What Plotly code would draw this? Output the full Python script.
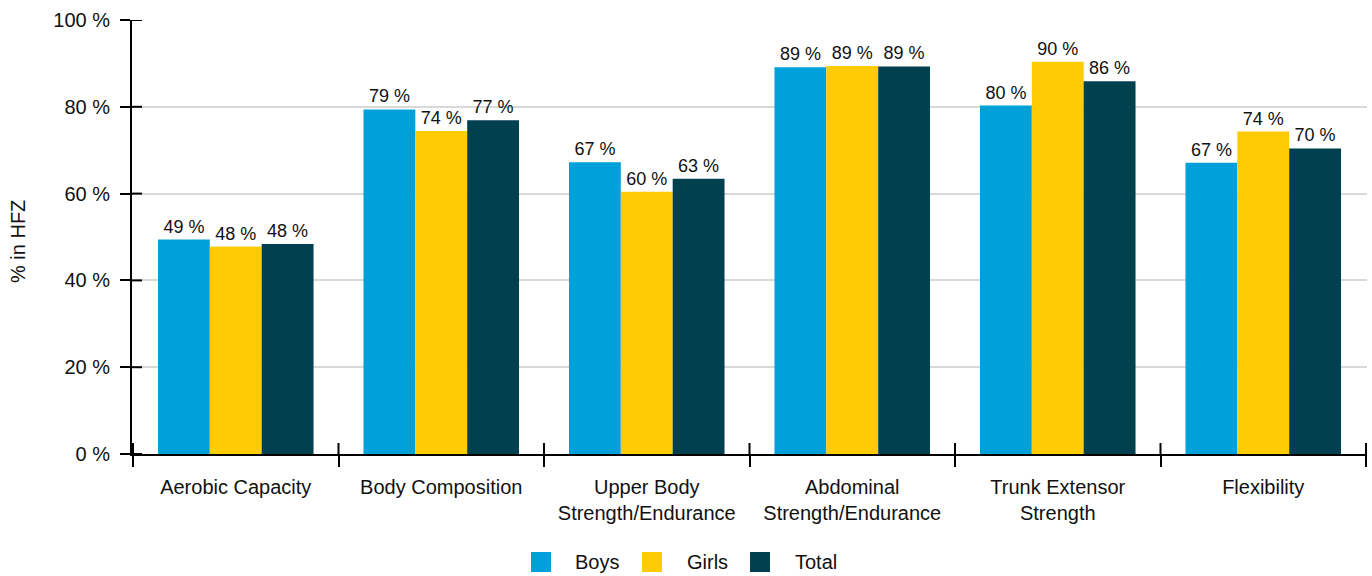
import plotly.graph_objects as go

categories = ["Aerobic Capacity", "Body Composition", "Upper Body<br>Strength/Endurance",
              "Abdominal<br>Strength/Endurance", "Trunk Extensor<br>Strength", "Flexibility"]
boys = [49.4, 79.4, 67.2, 89.1, 80.3, 67.1]
girls = [47.8, 74.4, 60.4, 89.4, 90.4, 74.3]
total = [48.4, 76.9, 63.4, 89.3, 85.9, 70.4]
series_names = ["Boys", "Girls", "Total"]
colors = ["#00A1DA", "#FFCB05", "#00404F"]
yticks = [0, 20, 40, 60, 80, 100]

W, H = 1372, 576
L, R, T, B = 132, 5, 20, 122
FONT = "Liberation Sans, Arial, sans-serif"

fig = go.Figure()
for name, vals, col in zip(series_names, [boys, girls, total], colors):
    fig.add_trace(go.Bar(
        x=categories, y=vals, name=name, marker=dict(color=col, line=dict(width=0)),
        text=[f"{v:.0f} %" for v in vals], textposition="outside",
        textfont=dict(size=18, color="#111111", family=FONT),
        cliponaxis=False, showlegend=False,
    ))

shapes = []
# inner halves of the crossing y ticks
for v in yticks:
    shapes.append(dict(type="line", xref="paper", yref="y", xsizemode="pixel", xanchor=0,
                       x0=0, x1=10, y0=v, y1=v, line=dict(color="black", width=2)))
# inner (upper) halves of the crossing x boundary ticks
for i in range(len(categories) + 1):
    shapes.append(dict(type="line", xref="x", yref="y", ysizemode="pixel", yanchor=0,
                       x0=i - 0.5, x1=i - 0.5, y0=0, y1=11, line=dict(color="black", width=2)))

# custom legend
plot_w = W - L - R
plot_h = H - T - B
def px_to_paper_x(px):
    return (px - L) / plot_w
def px_to_paper_y(py):
    return (H - B - py) / plot_h

leg_swatch_x = [531, 642, 750]
leg_text_x = [573, 685, 793]
leg_y = 562
annotations = []
for name, col, sx, tx in zip(series_names, colors, leg_swatch_x, leg_text_x):
    shapes.append(dict(type="rect", xref="paper", yref="paper",
                       x0=px_to_paper_x(sx), x1=px_to_paper_x(sx + 20),
                       y0=px_to_paper_y(leg_y + 10), y1=px_to_paper_y(leg_y - 10),
                       fillcolor=col, line=dict(width=0)))
    annotations.append(dict(text=name, xref="paper", yref="paper", x=px_to_paper_x(tx),
                            y=px_to_paper_y(leg_y), xanchor="left", yanchor="middle",
                            showarrow=False, font=dict(size=20, color="#111111", family=FONT)))

annotations.append(dict(text="% in HFZ", xref="paper", yref="paper", x=px_to_paper_x(18),
                        y=px_to_paper_y(242), textangle=-90, xanchor="center", yanchor="middle",
                        showarrow=False, font=dict(size=20, color="#111111", family=FONT)))

fig.update_layout(
    width=W, height=H,
    margin=dict(l=L, r=R, t=T, b=B, autoexpand=False),
    paper_bgcolor="white", plot_bgcolor="white",
    barmode="group", bargap=0.243, bargroupgap=0,
    font=dict(family=FONT, size=20, color="#111111"),
    shapes=shapes, annotations=annotations,
    showlegend=False,
)
fig.update_yaxes(
    range=[0, 100], tickvals=yticks, ticktext=[f"{v} %" for v in yticks],
    showgrid=True, gridcolor="#D9D9D9", gridwidth=2,
    showline=True, linecolor="black", linewidth=2,
    ticks="outside", ticklen=10, tickcolor="black", tickwidth=2,
    ticklabelstandoff=6, zeroline=False, tickfont=dict(size=20),
)
fig.update_xaxes(
    showline=True, linecolor="black", linewidth=2,
    ticks="outside", tickson="boundaries", ticklen=11, tickcolor="black", tickwidth=2,
    ticklabelstandoff=14, tickfont=dict(size=20), showgrid=False,
)

fig.write_html("out.html")
